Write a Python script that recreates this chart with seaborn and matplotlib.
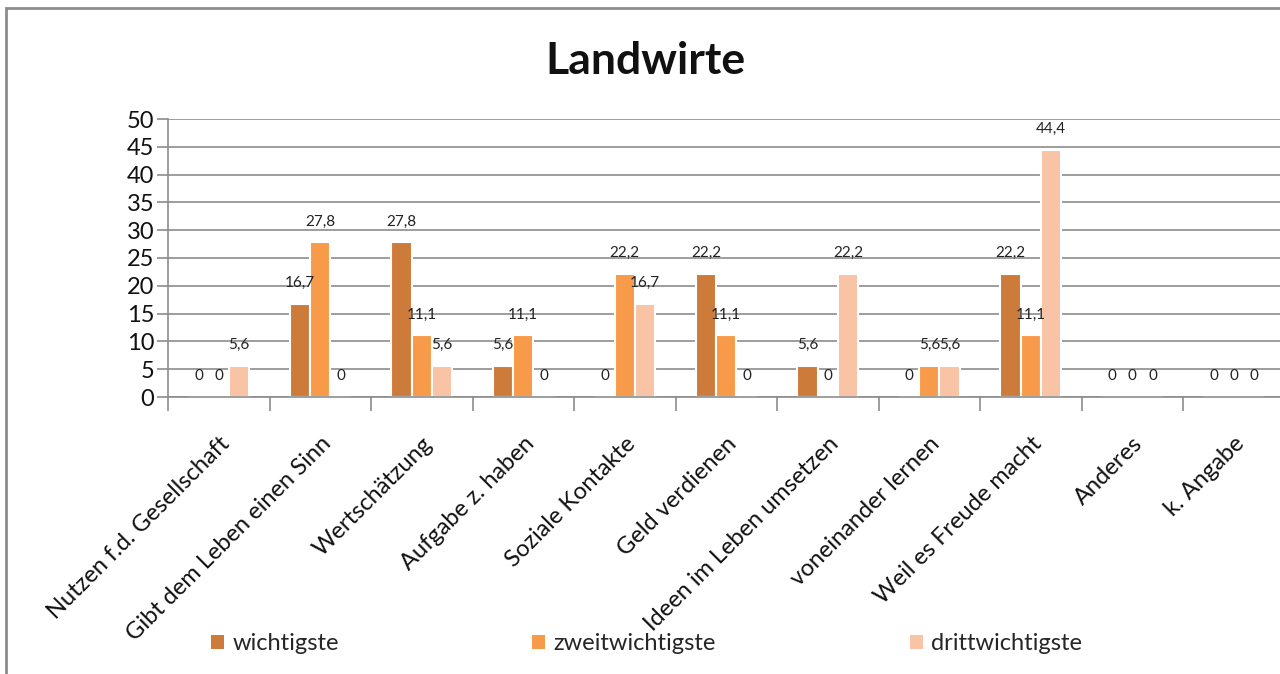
import numpy as np
import pandas as pd
import matplotlib
matplotlib.use("Agg")
import matplotlib.pyplot as plt
from matplotlib.patches import Rectangle
import seaborn as sns

categories = [
    "Nutzen f.d. Gesellschaft", "Gibt dem Leben einen Sinn", "Wertschätzung",
    "Aufgabe z. haben", "Soziale Kontakte", "Geld verdienen",
    "Ideen im Leben umsetzen", "voneinander lernen", "Weil es Freude macht",
    "Anderes", "k. Angabe",
]
series = ["wichtigste", "zweitwichtigste", "drittwichtigste"]
wichtigste = [0, 16.7, 27.8, 5.6, 0, 22.2, 5.6, 0, 22.2, 0, 0]
zweitwichtigste = [0, 27.8, 11.1, 11.1, 22.2, 11.1, 0, 5.6, 11.1, 0, 0]
drittwichtigste = [5.6, 0, 5.6, 0, 16.7, 0, 22.2, 5.6, 44.4, 0, 0]
colors = ["#CD7B3A", "#F79A4A", "#F9C3A5"]

df = pd.DataFrame({
    "Kategorie": categories * 3,
    "Reihe": np.repeat(series, len(categories)),
    "Wert": wichtigste + zweitwichtigste + drittwichtigste,
})

sns.set_theme(style="white")
plt.rcParams["font.family"] = ["Lato", "DejaVu Sans"]

fig = plt.figure(figsize=(12.8, 6.74), dpi=100)
ax = fig.add_axes([168 / 1280, 277 / 674, 1116.5 / 1280, 278 / 674])

sns.barplot(data=df, x="Kategorie", y="Wert", hue="Reihe", order=categories,
            hue_order=series, palette=colors, width=0.6, saturation=1,
            edgecolor="white", linewidth=1.5, ax=ax, legend=True)

for cont in ax.containers:
    labels = [f"{v:g}".replace(".", ",") for v in cont.datavalues]
    ax.bar_label(cont, labels=labels, padding=10, fontsize=11, color="#222222")

ax.set_ylim(0, 50)
ax.set_xlim(-0.5, len(categories) - 0.5)
ax.set_yticks(range(0, 51, 5))
ax.yaxis.grid(True, color="#8c8c8c", linewidth=1.2)
ax.set_axisbelow(True)
ax.set_xlabel("")
ax.set_ylabel("")

for side in ["top", "right"]:
    ax.spines[side].set_visible(False)
for side in ["left", "bottom"]:
    ax.spines[side].set_color("#8c8c8c")
    ax.spines[side].set_linewidth(1.2)

ax.tick_params(axis="y", which="major", length=8, width=1.2, color="#8c8c8c",
               labelsize=17, pad=2, left=True)
ax.set_xticks(np.arange(-0.5, len(categories), 1), minor=True)
ax.tick_params(axis="x", which="minor", length=10, width=1.2, color="#8c8c8c",
               bottom=True)
ax.tick_params(axis="x", which="major", length=0, pad=26, labelsize=17)
plt.setp(ax.get_xticklabels(), rotation=45, ha="right", rotation_mode="anchor")
for lab in ax.get_yticklabels() + ax.get_xticklabels():
    lab.set_color("#111111")

ax.get_legend().remove()
handles = [Rectangle((0, 0), 1, 1, facecolor=c, edgecolor="none") for c in colors]
fig.legend(handles, series, loc="center", bbox_to_anchor=(0.505, 0.045), ncol=3,
           frameon=False, fontsize=17, handlelength=0.55, handleheight=0.55,
           handletextpad=0.35, columnspacing=8.2)

fig.text(0.504, 0.91, "Landwirte", ha="center", va="center", fontsize=32,
         fontweight="bold", color="#111111")

fig.patches.append(Rectangle((6 / 1280, -0.05), 1.1, 1.05 - 8 / 674,
                             transform=fig.transFigure, fill=False,
                             edgecolor="#8c8c8c", linewidth=2))

fig.savefig("out.png", dpi=100, facecolor="white")
